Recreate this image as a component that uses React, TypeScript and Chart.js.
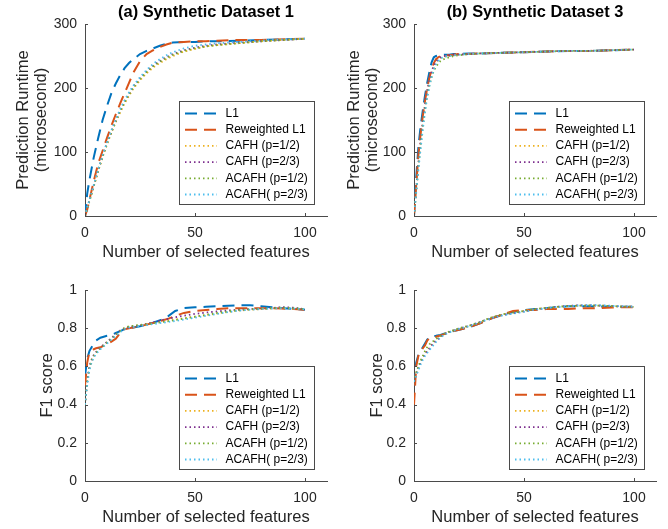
import React, { useEffect, useRef } from "react";
import { Chart, registerables } from "chart.js";

Chart.register(...registerables);

const FONT = "'Liberation Sans', Arial, Helvetica, sans-serif";
const INK = "#262626";
const AXIS = "#4a4a4a";

// ---- series meta ----
const seriesLabels = ["L1", "Reweighted L1", "CAFH (p=1/2)", "CAFH (p=2/3)", "ACAFH (p=1/2)", "ACAFH( p=2/3)"];
const seriesColors = ["#0072BD", "#D95319", "#EDB120", "#7E2F8E", "#77AC30", "#4DBEEE"];
const seriesDash = [[12, 7], [12, 7], [1.5, 3], [1.5, 3], [1.5, 3], [1.5, 3]];
const seriesWidths = [2, 2, 1.8, 1.8, 1.8, 1.8];

// ---- ticks ----
const xTicks = [0, 50, 100];
const runtimeTicks = [0, 100, 200, 300];
const runtimeTickLabels = ["0", "100", "200", "300"];
const f1Ticks = [0, 0.2, 0.4, 0.6, 0.8, 1];
const f1TickLabels = ["0", "0.2", "0.4", "0.6", "0.8", "1"];

// ---- (a) Synthetic Dataset 1: runtime ----
const featA = [0, 1, 2, 4, 6, 8, 10, 12, 14, 16, 18, 20, 22, 25, 28, 31, 34, 37, 40, 45, 50, 55, 60, 70, 80, 90, 100];
const rtA_L1 = [0, 35, 56, 92, 122, 150, 172, 192, 207, 220, 231, 239, 245, 253, 258, 262, 266, 269, 271, 272, 272, 273, 273, 274, 275, 276, 277];
const rtA_RL1 = [0, 10, 25, 55, 82, 102, 122, 141, 159, 176, 192, 208, 224, 242, 253, 259, 264, 268, 271, 272, 273, 273, 274, 275, 275, 276, 277];
const rtA_C12 = [0, 12, 23, 46, 70, 92, 112, 130, 147, 162, 176, 188, 199, 212, 223, 232, 239, 245, 250, 257, 261, 265, 267, 270, 273, 275, 277];
const rtA_C23 = [0, 12, 24, 48, 72, 94, 114, 132, 149, 165, 179, 191, 202, 215, 226, 235, 242, 248, 253, 259, 263, 266, 268, 271, 273, 275, 277];
const rtA_A12 = [0, 11, 23, 47, 71, 93, 113, 131, 148, 164, 178, 190, 201, 214, 225, 234, 241, 247, 252, 258, 262, 265, 267, 270, 273, 275, 277];
const rtA_A23 = [0, 13, 25, 49, 73, 95, 115, 134, 151, 167, 181, 193, 204, 217, 228, 238, 245, 251, 256, 262, 266, 268, 270, 272, 274, 276, 277];

// ---- (b) Synthetic Dataset 3: runtime ----
const featB = [0, 1, 2, 3, 4, 5, 6, 7, 8, 9, 10, 11, 12, 14, 16, 18, 20, 25, 30, 40, 50, 60, 70, 80, 90, 100];
const rtB_L1 = [0, 60, 108, 140, 165, 188, 208, 225, 240, 248, 250, 251, 251, 252, 252, 253, 253, 254, 254, 255, 256, 257, 258, 258, 259, 260];
const rtB_RL1 = [0, 48, 95, 128, 156, 180, 200, 216, 229, 239, 245, 248, 250, 251, 251, 252, 253, 253, 254, 255, 256, 257, 258, 258, 259, 260];
const rtB_C12 = [0, 40, 80, 115, 145, 172, 194, 211, 224, 233, 240, 244, 247, 249, 250, 251, 252, 253, 254, 255, 256, 257, 258, 258, 259, 260];
const rtB_C23 = [0, 42, 82, 117, 147, 174, 196, 213, 226, 235, 241, 245, 248, 250, 251, 252, 252, 253, 254, 255, 256, 257, 258, 258, 259, 260];
const rtB_A12 = [0, 38, 76, 110, 140, 166, 187, 204, 217, 227, 233, 238, 242, 246, 248, 250, 251, 253, 254, 255, 256, 257, 258, 258, 259, 260];
const rtB_A23 = [0, 36, 72, 105, 135, 162, 185, 203, 218, 229, 237, 242, 246, 249, 250, 251, 252, 253, 254, 255, 256, 257, 258, 258, 259, 260];

// ---- (a) F1 score ----
const featC = [0, 1, 2, 3, 4, 5, 7, 10, 12, 14, 16, 18, 20, 25, 30, 35, 38, 41, 45, 50, 55, 60, 65, 70, 75, 80, 85, 90, 95, 100];
const f1C_L1 = [0.55, 0.64, 0.68, 0.7, 0.72, 0.735, 0.75, 0.76, 0.765, 0.775, 0.785, 0.795, 0.8, 0.81, 0.825, 0.845, 0.865, 0.89, 0.905, 0.91, 0.912, 0.915, 0.918, 0.92, 0.92, 0.915, 0.91, 0.905, 0.9, 0.897];
const f1C_RL1 = [0.5, 0.62, 0.675, 0.685, 0.69, 0.695, 0.7, 0.715, 0.73, 0.745, 0.775, 0.795, 0.8, 0.81, 0.825, 0.84, 0.85, 0.865, 0.88, 0.89, 0.895, 0.9, 0.905, 0.905, 0.905, 0.905, 0.905, 0.903, 0.9, 0.897];
const f1C_C12 = [0.4, 0.52, 0.59, 0.63, 0.655, 0.67, 0.695, 0.725, 0.745, 0.765, 0.785, 0.8, 0.808, 0.815, 0.825, 0.835, 0.84, 0.845, 0.852, 0.86, 0.868, 0.877, 0.885, 0.892, 0.897, 0.9, 0.903, 0.905, 0.903, 0.9];
const f1C_C23 = [0.4, 0.53, 0.6, 0.635, 0.66, 0.675, 0.7, 0.728, 0.748, 0.768, 0.788, 0.8, 0.806, 0.815, 0.828, 0.842, 0.85, 0.857, 0.865, 0.875, 0.882, 0.888, 0.893, 0.897, 0.9, 0.903, 0.906, 0.91, 0.907, 0.9];
const f1C_A12 = [0.4, 0.52, 0.59, 0.63, 0.655, 0.67, 0.695, 0.725, 0.745, 0.765, 0.785, 0.802, 0.81, 0.817, 0.824, 0.832, 0.837, 0.843, 0.85, 0.86, 0.87, 0.88, 0.888, 0.895, 0.899, 0.902, 0.905, 0.908, 0.905, 0.9];
const f1C_A23 = [0.4, 0.5, 0.58, 0.62, 0.645, 0.665, 0.69, 0.72, 0.74, 0.76, 0.78, 0.795, 0.803, 0.812, 0.82, 0.828, 0.833, 0.838, 0.845, 0.855, 0.865, 0.875, 0.884, 0.892, 0.897, 0.9, 0.903, 0.905, 0.903, 0.9];

// ---- (b) F1 score ----
const featD = [0, 1, 2, 3, 4, 5, 6, 7, 8, 10, 12, 14, 16, 20, 25, 30, 35, 40, 45, 50, 55, 60, 65, 70, 75, 80, 85, 90, 95, 100];
const f1D_L1 = [0.5, 0.62, 0.66, 0.68, 0.7, 0.72, 0.74, 0.752, 0.758, 0.76, 0.765, 0.772, 0.78, 0.79, 0.805, 0.825, 0.85, 0.87, 0.885, 0.895, 0.9, 0.905, 0.91, 0.915, 0.915, 0.915, 0.913, 0.912, 0.912, 0.912];
const f1D_RL1 = [0.4, 0.6, 0.655, 0.675, 0.695, 0.71, 0.735, 0.748, 0.752, 0.755, 0.762, 0.77, 0.78, 0.79, 0.805, 0.825, 0.85, 0.87, 0.89, 0.895, 0.895, 0.9, 0.9, 0.9, 0.905, 0.905, 0.905, 0.908, 0.91, 0.91];
const f1D_C12 = [0.52, 0.56, 0.59, 0.62, 0.645, 0.665, 0.68, 0.695, 0.71, 0.735, 0.755, 0.77, 0.78, 0.795, 0.81, 0.83, 0.855, 0.87, 0.88, 0.89, 0.9, 0.905, 0.91, 0.915, 0.918, 0.918, 0.918, 0.915, 0.913, 0.912];
const f1D_C23 = [0.52, 0.56, 0.59, 0.62, 0.645, 0.665, 0.68, 0.695, 0.71, 0.735, 0.755, 0.77, 0.78, 0.797, 0.812, 0.832, 0.853, 0.868, 0.878, 0.888, 0.898, 0.905, 0.912, 0.917, 0.92, 0.92, 0.918, 0.916, 0.913, 0.912];
const f1D_A12 = [0.52, 0.57, 0.6, 0.63, 0.655, 0.68, 0.7, 0.715, 0.725, 0.745, 0.76, 0.772, 0.782, 0.798, 0.813, 0.832, 0.856, 0.872, 0.882, 0.89, 0.9, 0.906, 0.912, 0.916, 0.918, 0.919, 0.918, 0.916, 0.913, 0.912];
const f1D_A23 = [0.52, 0.55, 0.58, 0.61, 0.635, 0.655, 0.67, 0.685, 0.7, 0.728, 0.75, 0.768, 0.778, 0.795, 0.81, 0.83, 0.852, 0.866, 0.876, 0.886, 0.897, 0.904, 0.91, 0.915, 0.919, 0.921, 0.92, 0.917, 0.914, 0.912];

const CW = 334;
const CH = 264;

type Panel = {
  left: number; top: number; title: string;
  x: number[]; ys: number[][];
  yMax: number; yTicks: number[]; yTickLabels: string[];
  yTitle: string | string[]; yTitlePad: number;
  axisLeft: number; areaTop: number;
  legendGapR: number; legendGapB: number;
};

const panels: Panel[] = [
  { left: 0, top: 0, title: "(a) Synthetic Dataset 1", x: featA, ys: [rtA_L1, rtA_RL1, rtA_C12, rtA_C23, rtA_A12, rtA_A23],
    yMax: 300, yTicks: runtimeTicks, yTickLabels: runtimeTickLabels, yTitle: ["Prediction Runtime", "(microsecond)"], yTitlePad: 14,
    axisLeft: 85, areaTop: 24, legendGapR: 13, legendGapB: 12 },
  { left: 334, top: 0, title: "(b) Synthetic Dataset 3", x: featB, ys: [rtB_L1, rtB_RL1, rtB_C12, rtB_C23, rtB_A12, rtB_A23],
    yMax: 300, yTicks: runtimeTicks, yTickLabels: runtimeTickLabels, yTitle: ["Prediction Runtime", "(microsecond)"], yTitlePad: 11,
    axisLeft: 80, areaTop: 24, legendGapR: 12, legendGapB: 12 },
  { left: 0, top: 265, title: "", x: featC, ys: [f1C_L1, f1C_RL1, f1C_C12, f1C_C23, f1C_A12, f1C_A23],
    yMax: 1, yTicks: f1Ticks, yTickLabels: f1TickLabels, yTitle: "F1 score", yTitlePad: 38,
    axisLeft: 85, areaTop: 25, legendGapR: 13, legendGapB: 12 },
  { left: 334, top: 265, title: "", x: featD, ys: [f1D_L1, f1D_RL1, f1D_C12, f1D_C23, f1D_A12, f1D_A23],
    yMax: 1, yTicks: f1Ticks, yTickLabels: f1TickLabels, yTitle: "F1 score", yTitlePad: 34,
    axisLeft: 80, areaTop: 25, legendGapR: 12, legendGapB: 12 },
];

const decor = {
  id: "matlabDecor",
  afterDatasetsDraw(chart: any, _args: any, opts: any) {
    const { ctx, chartArea: a, scales } = chart;
    ctx.save();
    // inward tick marks
    ctx.strokeStyle = AXIS;
    ctx.lineWidth = 1;
    ctx.setLineDash([]);
    ctx.beginPath();
    for (const t of scales.x.ticks) {
      const px = Math.round(scales.x.getPixelForValue(t.value)) + 0.5;
      ctx.moveTo(px, a.bottom);
      ctx.lineTo(px, a.bottom - 3);
    }
    for (const t of scales.y.ticks) {
      const py = Math.round(scales.y.getPixelForValue(t.value)) + 0.5;
      ctx.moveTo(a.left, py);
      ctx.lineTo(a.left + 3, py);
    }
    ctx.stroke();

    // panel title
    if (opts.title) {
      ctx.font = `bold 16.4px ${FONT}`;
      ctx.fillStyle = "#000";
      ctx.textAlign = "center";
      ctx.textBaseline = "middle";
      ctx.fillText(opts.title, (a.left + a.right) / 2, 12.5);
    }

    // legend box
    const w = 135, h = 103;
    const lx = Math.round(a.right - opts.legendGapR - w);
    const ly = Math.round(a.bottom - opts.legendGapB - h);
    ctx.fillStyle = "#fff";
    ctx.fillRect(lx, ly, w, h);
    ctx.strokeStyle = AXIS;
    ctx.lineWidth = 1;
    ctx.strokeRect(lx + 0.5, ly + 0.5, w, h);
    ctx.font = `12px ${FONT}`;
    ctx.textAlign = "left";
    ctx.textBaseline = "middle";
    chart.data.datasets.forEach((ds: any, i: number) => {
      const y = ly + 12.5 + i * 16.2;
      ctx.beginPath();
      ctx.setLineDash(ds.borderDash || []);
      ctx.strokeStyle = ds.borderColor;
      ctx.lineWidth = ds.borderWidth;
      ctx.moveTo(lx + 6, y);
      ctx.lineTo(lx + 38, y);
      ctx.stroke();
      ctx.setLineDash([]);
      ctx.fillStyle = "#000";
      ctx.fillText(ds.label, lx + 46.5, y);
    });
    ctx.restore();
  },
};

function PanelChart({ p }: { p: Panel }) {
  const ref = useRef<HTMLCanvasElement | null>(null);
  useEffect(() => {
    if (!ref.current) return;
    const cfg: any = {
      type: "line",
      data: {
        datasets: p.ys.map((ys, i) => ({
          label: seriesLabels[i],
          data: p.x.map((x, j) => ({ x, y: ys[j] })),
          borderColor: seriesColors[i],
          backgroundColor: seriesColors[i],
          borderWidth: seriesWidths[i],
          borderDash: seriesDash[i],
          borderCapStyle: "butt",
          pointRadius: 0,
          fill: false,
          tension: 0,
          order: seriesLabels.length - 1 - i,
        })),
      },
      options: {
        animation: false,
        responsive: false,
        devicePixelRatio: 1,
        events: [],
        layout: { padding: { top: p.areaTop, left: 0, right: CW - (p.axisLeft + 242), bottom: 0 } },
        plugins: {
          legend: { display: false },
          title: { display: false },
          tooltip: { enabled: false },
          matlabDecor: { title: p.title, legendGapR: p.legendGapR, legendGapB: p.legendGapB },
        },
        scales: {
          x: {
            type: "linear",
            min: 0,
            max: 110,
            afterBuildTicks: (s: any) => { s.ticks = xTicks.map((v) => ({ value: v })); },
            afterFit: (s: any) => { s.height = 48; },
            ticks: { font: { family: FONT, size: 14 }, color: INK, padding: 9, maxRotation: 0, autoSkip: false, callback: (v: any) => String(v) },
            grid: { display: false, drawTicks: false },
            border: { display: true, color: AXIS, width: 1 },
            title: { display: true, text: "Number of selected features", color: INK, font: { family: FONT, size: 16.5, lineHeight: 1.1 }, padding: { top: 0, bottom: 2 } },
          },
          y: {
            type: "linear",
            min: 0,
            max: p.yMax,
            afterBuildTicks: (s: any) => { s.ticks = p.yTicks.map((v) => ({ value: v })); },
            afterFit: (s: any) => { s.width = p.axisLeft; },
            ticks: { font: { family: FONT, size: 14 }, color: INK, padding: 8, autoSkip: false, callback: (_v: any, i: number) => p.yTickLabels[i] },
            grid: { display: false, drawTicks: false },
            border: { display: true, color: AXIS, width: 1 },
            title: { display: true, text: p.yTitle, color: INK, font: { family: FONT, size: 16.5, lineHeight: 1.1 }, padding: { top: p.yTitlePad, bottom: 0 } },
          },
        },
      },
      plugins: [decor],
    };
    const chart = new Chart(ref.current, cfg);
    return () => chart.destroy();
  }, [p]);
  return (
    <canvas
      ref={ref}
      width={CW}
      height={CH}
      style={{ position: "absolute", left: p.left, top: p.top, width: CW, height: CH }}
    />
  );
}

export default function App() {
  return (
    <div style={{ position: "fixed", left: 0, top: 0, width: 668, height: 529, background: "#fff", overflow: "hidden" }}>
      {panels.map((p, i) => (
        <PanelChart key={i} p={p} />
      ))}
    </div>
  );
}
